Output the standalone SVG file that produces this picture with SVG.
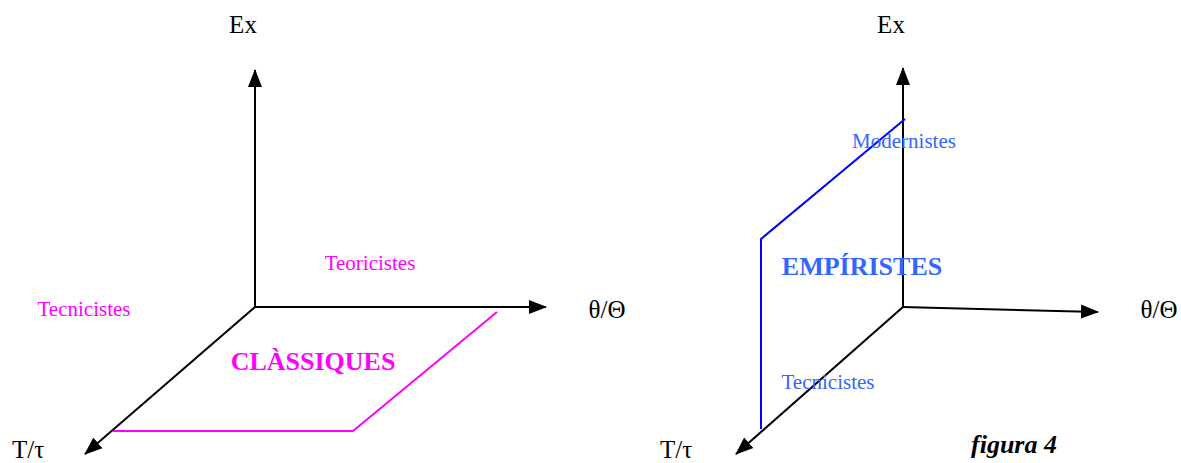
<svg xmlns="http://www.w3.org/2000/svg" width="1181" height="463" viewBox="0 0 1181 463">
<style>
text{font-family:"Liberation Serif","Times New Roman",serif}
.ax{stroke:#000;stroke-width:2;fill:none;marker-end:url(#arr)}
.lab{font-size:25px;fill:#000}
.m{fill:#ff00ff}
.b{fill:#3366ff}
.sm{font-size:21px}
.big{font-size:26px;font-weight:bold}
.fig{font-size:26px;font-weight:bold;font-style:italic}
</style>
<defs>
<marker id="arr" markerUnits="userSpaceOnUse" markerWidth="18" markerHeight="16" refX="17" refY="7" orient="auto" viewBox="0 0 18 14">
<path d="M0,0 L18,7 L0,14 z" fill="#000"/>
</marker>
</defs>
<g id="connectors">
<line class="ax" x1="255" y1="308" x2="255" y2="70"/>
<line class="ax" x1="254" y1="307" x2="546" y2="307"/>
<line class="ax" x1="255" y1="307" x2="85" y2="454"/>
<line class="ax" x1="903" y1="308" x2="903" y2="68"/>
<line class="ax" x1="902" y1="307" x2="1098" y2="312"/>
<line class="ax" x1="903" y1="307" x2="736" y2="454"/>
</g>
<g id="classiques-plane"><polyline points="113,431 353,431 497,312" fill="none" stroke="#ff00ff" stroke-width="2"/></g>
<g id="empiristes-plane"><polyline points="761,429 761,239 905,119" fill="none" stroke="#0000ff" stroke-width="2"/></g>
<g id="left-labels">
<text class="lab" x="243" y="33" text-anchor="middle">Ex</text>
<text class="lab" x="607" y="318" text-anchor="middle">θ/Θ</text>
<text class="lab" x="12" y="458">T/τ</text>
<text class="m sm" x="370" y="270" text-anchor="middle">Teoricistes</text>
<text class="m sm" x="84" y="316" text-anchor="middle">Tecnicistes</text>
<text class="m big" x="313" y="370" text-anchor="middle">CLÀSSIQUES</text>
</g>
<g id="right-labels">
<text class="lab" x="891" y="33" text-anchor="middle">Ex</text>
<text class="lab" x="1159" y="318" text-anchor="middle">θ/Θ</text>
<text class="lab" x="660" y="458">T/τ</text>
<text class="b sm" x="904" y="148" text-anchor="middle">Modernistes</text>
<text class="b big" x="862" y="275" text-anchor="middle">EMPÍRISTES</text>
<text class="b sm" x="828" y="389" text-anchor="middle">Tecnicistes</text>
<text class="fig" x="1014" y="453" text-anchor="middle">figura 4</text>
</g>
</svg>
